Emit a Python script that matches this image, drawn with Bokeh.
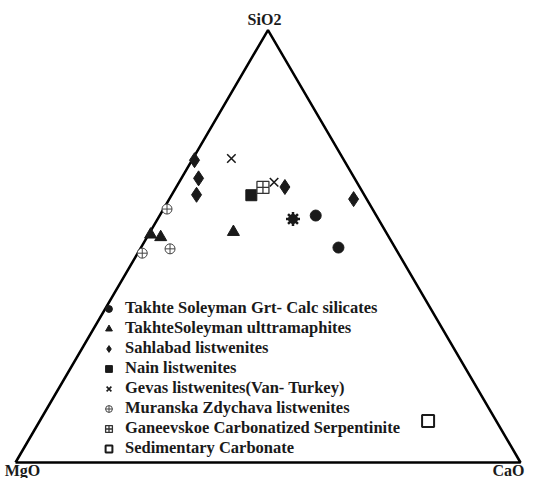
import math
from bokeh.plotting import figure
from bokeh.models import Legend, LegendItem, Label, Range1d
from bokeh.embed import file_html
from bokeh.resources import INLINE

# ---- data (wt% SiO2, MgO, CaO) ----
grt_sio2 = [57.1, 49.7]
grt_mgo = [12.0, 11.2]
grt_cao = [30.9, 39.1]

ultra_sio2 = [52.7, 52.1, 53.3]
ultra_mgo = [46.9, 45.2, 30.2]
ultra_cao = [0.4, 2.7, 16.5]

sahl_sio2 = [69.9, 65.7, 61.9, 63.7, 60.9]
sahl_mgo = [29.6, 30.9, 33.2, 14.8, 2.6]
sahl_cao = [0.5, 3.4, 4.9, 21.5, 36.5]

nain_sio2 = [61.8]
nain_mgo = [22.4]
nain_cao = [15.8]

gevas_sio2 = [70.3, 64.8]
gevas_mgo = [22.1, 16.4]
gevas_cao = [7.6, 18.8]

mur_sio2 = [58.6, 48.4, 49.4]
mur_mgo = [40.7, 50.7, 44.7]
mur_cao = [0.7, 0.9, 5.9]

gan_sio2 = [63.6]
gan_mgo = [19.2]
gan_cao = [17.2]

sed_sio2 = [9.6]
sed_mgo = [13.5]
sed_cao = [76.9]

star_sio2 = [56.3]
star_mgo = [16.9]
star_cao = [26.8]

labels = [
    "Takhte Soleyman Grt- Calc silicates",
    "TakhteSoleyman ulttramaphites",
    "Sahlabad listwenites",
    "Nain listwenites",
    "Gevas listwenites(Van- Turkey)",
    "Muranska Zdychava listwenites",
    "Ganeevskoe Carbonatized Serpentinite",
    "Sedimentary Carbonate",
]

H = math.sqrt(3) / 2


def tern(sio2, mgo, cao):
    xs, ys = [], []
    for s, m, c in zip(sio2, mgo, cao):
        t = s + m + c
        s, c = s / t, c / t
        xs.append(c + s / 2)
        ys.append(s * H)
    return xs, ys


W, HT = 525, 478
xscale = 505.0
yscale = 499.4
x0 = -15 / xscale
y0 = -16 / yscale
p = figure(width=W, height=HT, output_backend="svg", toolbar_location=None,
           x_range=Range1d(x0, x0 + W / xscale), y_range=Range1d(y0, y0 + HT / yscale),
           min_border=0)
p.axis.visible = False
p.grid.visible = False
p.outline_line_color = None
p.background_fill_color = "white"

# triangle frame
p.line([0, 1, 0.5, 0], [0, 0, H, 0], line_color="black", line_width=2.5)

FONT = "Liberation Serif"
INK = "#1a1a1a"

items = []

x, y = tern(grt_sio2, grt_mgo, grt_cao)
r = p.scatter(x, y, marker="circle", size=11, fill_color=INK, line_color=INK)
items.append(LegendItem(label=labels[0], renderers=[r]))

x, y = tern(ultra_sio2, ultra_mgo, ultra_cao)
r = p.scatter(x, y, marker="triangle", size=12, fill_color=INK, line_color=INK)
items.append(LegendItem(label=labels[1], renderers=[r]))

x, y = tern(sahl_sio2, sahl_mgo, sahl_cao)
r = p.scatter(x, y, marker="diamond", size=15, fill_color=INK, line_color=INK)
items.append(LegendItem(label=labels[2], renderers=[r]))

x, y = tern(nain_sio2, nain_mgo, nain_cao)
r = p.scatter(x, y, marker="square", size=11, fill_color=INK, line_color=INK)
items.append(LegendItem(label=labels[3], renderers=[r]))

x, y = tern(gevas_sio2, gevas_mgo, gevas_cao)
r = p.scatter(x, y, marker="x", size=12, line_color=INK, line_width=1.6)
items.append(LegendItem(label=labels[4], renderers=[r]))

x, y = tern(mur_sio2, mur_mgo, mur_cao)
r = p.scatter(x, y, marker="circle_cross", size=10, fill_color="white", line_color="#444444", line_width=1)
items.append(LegendItem(label=labels[5], renderers=[r]))

x, y = tern(gan_sio2, gan_mgo, gan_cao)
r = p.scatter(x, y, marker="square_cross", size=12, fill_color="white", line_color="#333333", line_width=1.3)
items.append(LegendItem(label=labels[6], renderers=[r]))

x, y = tern(sed_sio2, sed_mgo, sed_cao)
r = p.scatter(x, y, marker="square", size=12, fill_color="white", line_color=INK, line_width=2)
items.append(LegendItem(label=labels[7], renderers=[r]))

x, y = tern(star_sio2, star_mgo, star_cao)
p.scatter(x, y, marker="circle", size=9, fill_color=INK, line_color=INK)
p.scatter(x, y, marker="asterisk", size=14, line_color=INK, line_width=2.5)

legend = Legend(items=items, location=(100, 20), orientation="vertical",
                background_fill_alpha=0, border_line_color=None,
                padding=0, margin=0, spacing=0, label_height=17, glyph_height=17,
                glyph_width=17, label_standoff=8,
                label_text_font=FONT, label_text_font_style="bold",
                label_text_font_size="16.5px", label_text_color=INK)
p.add_layout(legend, "center")

for txt, lx, ly, align, base in [("SiO2", 264, 459, "center", "alphabetic"),
                                 ("MgO", 22, 0, "center", "bottom"),
                                 ("CaO", 524, 0, "right", "bottom")]:
    p.add_layout(Label(x=lx, y=ly, x_units="screen", y_units="screen", text=txt,
                       text_font=FONT, text_font_style="bold", text_font_size="16px",
                       text_color=INK, text_align=align, text_baseline=base))

open("out.html", "w").write(file_html(p, INLINE))
